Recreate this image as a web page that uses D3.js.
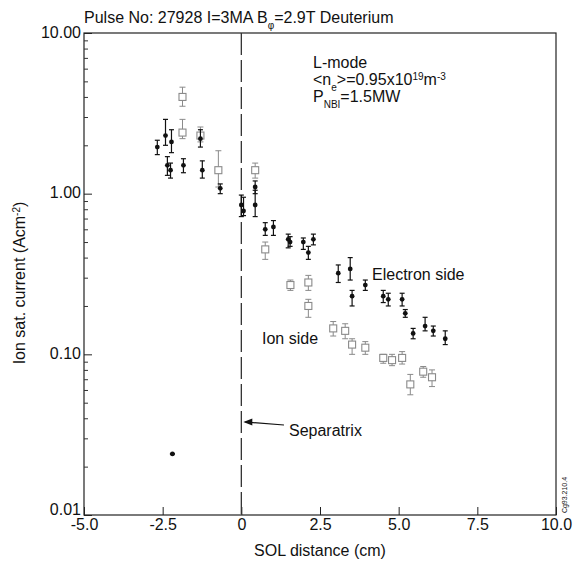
<!DOCTYPE html>
<html>
<head>
<meta charset="utf-8">
<script src="https://cdn.jsdelivr.net/npm/d3@7"></script>
<style>
body { margin: 0; background: #fff; }
text { font-family: "Liberation Sans", Arial, sans-serif; fill: #111; }
</style>
</head>
<body>
<script>
//Chart data

const xTicks = [-5, -2.5, 0, 2.5, 5, 7.5, 10];
const xTickLabels = ["-5.0", "-2.5", "0", "2.5", "5.0", "7.5", "10.0"];
const yTicks = [10, 1, 0.1, 0.01];
const yTickLabels = ["10.00", "1.00", "0.10", "0.01"];

// electron side (filled points with error bars)
const electronX  = [-2.67, -2.41, -2.35, -2.22, -2.25, -1.84, -1.30, -1.24, -0.67, 0.00, 0.07, 0.44, 0.44, 0.76, 1.02, 1.49, 1.55, 1.97, 2.13, 2.29, 3.08, 3.46, 3.52, 3.94, 4.51, 4.67, 5.11, 5.21, 5.46, 5.84, 6.10, 6.48, -2.19];
const electronY  = [1.95, 2.3, 1.5, 2.1, 1.4, 1.5, 2.2, 1.4, 1.08, 0.85, 0.78, 0.85, 1.1, 0.6, 0.62, 0.52, 0.5, 0.5, 0.43, 0.52, 0.32, 0.34, 0.23, 0.27, 0.23, 0.22, 0.22, 0.18, 0.135, 0.15, 0.14, 0.125, 0.024];
const electronLo = [1.75, 2.0, 1.3, 1.8, 1.25, 1.35, 1.95, 1.25, 1.0, 0.72, 0.73, 0.72, 1.0, 0.55, 0.55, 0.46, 0.47, 0.45, 0.39, 0.48, 0.28, 0.29, 0.2, 0.25, 0.21, 0.2, 0.2, 0.17, 0.125, 0.14, 0.13, 0.115, 0.024];
const electronHi = [2.15, 2.9, 1.7, 2.5, 1.55, 1.65, 2.5, 1.6, 1.15, 0.98, 0.95, 1.05, 1.2, 0.66, 0.68, 0.56, 0.54, 0.53, 0.47, 0.56, 0.36, 0.40, 0.25, 0.29, 0.25, 0.24, 0.24, 0.19, 0.145, 0.17, 0.15, 0.14, 0.024];

// ion side (open squares with error bars)
const ionX  = [-1.87, -1.87, -1.30, -0.73, 0.44, 0.76, 1.56, 2.13, 2.13, 2.92, 3.30, 3.52, 3.94, 4.51, 4.79, 5.11, 5.37, 5.78, 6.06];
const ionY  = [4.0, 2.4, 2.3, 1.4, 1.4, 0.45, 0.27, 0.28, 0.2, 0.145, 0.14, 0.115, 0.11, 0.095, 0.092, 0.095, 0.065, 0.078, 0.072];
const ionLo = [3.5, 2.2, 2.1, 1.1, 1.25, 0.39, 0.25, 0.25, 0.17, 0.13, 0.125, 0.10, 0.10, 0.088, 0.085, 0.087, 0.056, 0.072, 0.063];
const ionHi = [4.6, 2.9, 2.6, 1.85, 1.55, 0.5, 0.29, 0.31, 0.22, 0.16, 0.155, 0.125, 0.12, 0.10, 0.10, 0.104, 0.075, 0.084, 0.08];

//Setting up the svg

var width = 576, height = 566;
var margin = { left: 84, right: 20, top: 33, bottom: 51 };

var svg = d3.select("body").append("svg")
    .attr("width", width)
    .attr("height", height);

var x = d3.scaleLinear().domain([-5, 10]).range([margin.left, width - margin.right]);
var y = d3.scaleLog().domain([0.01, 10]).range([height - margin.bottom, margin.top]);

// frame
svg.append("rect")
    .attr("x", x(-5)).attr("y", y(10))
    .attr("width", x(10) - x(-5)).attr("height", y(0.01) - y(10))
    .attr("fill", "none").attr("stroke", "#222").attr("stroke-width", 1.2);

// x axis, ticks pointing in
var xAxis = d3.axisBottom(x)
    .tickValues(xTicks)
    .tickSizeInner(-8).tickSizeOuter(0).tickPadding(4)
    .tickFormat((d, i) => xTickLabels[i]);

svg.append("g")
    .attr("transform", "translate(0," + y(0.01) + ")")
    .call(xAxis)
    .call(g => g.select(".domain").remove())
    .call(g => g.selectAll("text").style("font-size", "16px").attr("fill", "#111"))
    .call(g => g.selectAll("line").attr("stroke", "#222"));

// y axis, major and minor ticks pointing in
var minor = [];
[0.01, 0.1, 1].forEach(function (d) {
    for (let k = 2; k < 10; k++) minor.push(d * k);
});

svg.append("g")
    .attr("transform", "translate(" + x(-5) + ",0)")
    .call(d3.axisLeft(y).tickValues(minor).tickSizeInner(-4).tickSizeOuter(0).tickFormat(""))
    .call(g => g.select(".domain").remove())
    .call(g => g.selectAll("line").attr("stroke", "#333"));

svg.append("g")
    .attr("transform", "translate(" + x(-5) + ",0)")
    .call(d3.axisLeft(y).tickValues(yTicks).tickSizeInner(-8).tickSizeOuter(0).tickPadding(3)
        .tickFormat((d, i) => yTickLabels[i]))
    .call(g => g.select(".domain").remove())
    .call(g => g.selectAll("text").style("font-size", "16px").attr("fill", "#111")
        .attr("dy", d => d == 0.01 ? "-0.05em" : "0.25em"))
    .call(g => g.selectAll("line").attr("stroke", "#222"));

// separatrix line
svg.append("line")
    .attr("x1", x(0)).attr("x2", x(0))
    .attr("y1", y(10)).attr("y2", y(0.01))
    .attr("stroke", "#333").attr("stroke-width", 1.3)
    .attr("stroke-dasharray", "22,5");

//Drawing the points

var ion = ionX.map((d, i) => ({ x: d, y: ionY[i], lo: ionLo[i], hi: ionHi[i] }));
var electron = electronX.map((d, i) => ({ x: d, y: electronY[i], lo: electronLo[i], hi: electronHi[i] }));

var ionG = svg.append("g").attr("stroke", "#8a8a8a").attr("fill", "none");
ionG.selectAll("line.bar").data(ion).enter().append("line")
    .attr("x1", d => x(d.x)).attr("x2", d => x(d.x))
    .attr("y1", d => y(d.lo)).attr("y2", d => y(d.hi))
    .attr("stroke-width", 1);
ionG.selectAll("line.cap").data(ion.flatMap(d => [[d.x, d.lo], [d.x, d.hi]])).enter().append("line")
    .attr("x1", d => x(d[0]) - 3).attr("x2", d => x(d[0]) + 3)
    .attr("y1", d => y(d[1])).attr("y2", d => y(d[1]));
ionG.selectAll("rect").data(ion).enter().append("rect")
    .attr("x", d => x(d.x) - 3.5).attr("y", d => y(d.y) - 3.5)
    .attr("width", 7).attr("height", 7)
    .attr("fill", "#fff").attr("stroke-width", 1.1);

var elG = svg.append("g").attr("stroke", "#111");
elG.selectAll("line.bar").data(electron).enter().append("line")
    .attr("x1", d => x(d.x)).attr("x2", d => x(d.x))
    .attr("y1", d => y(d.lo)).attr("y2", d => y(d.hi))
    .attr("stroke-width", 1.2);
elG.selectAll("line.cap").data(electron.flatMap(d => [[d.x, d.lo], [d.x, d.hi]])).enter().append("line")
    .attr("x1", d => x(d[0]) - 2.5).attr("x2", d => x(d[0]) + 2.5)
    .attr("y1", d => y(d[1])).attr("y2", d => y(d[1]))
    .attr("stroke-width", 1.2);
elG.selectAll("circle").data(electron).enter().append("circle")
    .attr("cx", d => x(d.x)).attr("cy", d => y(d.y))
    .attr("r", 2.4).attr("fill", "#111").attr("stroke", "none");

//Texts

var title = svg.append("text").attr("x", 84).attr("y", 23).style("font-size", "16px");
title.append("tspan").text("Pulse No: 27928 I=3MA B");
title.append("tspan").attr("baseline-shift", "sub").style("font-size", "10px").text("φ");
title.append("tspan").text("=2.9T Deuterium");

var info = svg.append("g").style("font-size", "16px");
info.append("text").attr("x", 313).attr("y", 68).text("L-mode");
var ne = info.append("text").attr("x", 313).attr("y", 85);
ne.append("tspan").text("<n");
ne.append("tspan").attr("baseline-shift", "sub").style("font-size", "10px").text("e");
ne.append("tspan").text(">=0.95x10");
ne.append("tspan").attr("baseline-shift", "super").style("font-size", "10px").text("19");
ne.append("tspan").text("m");
ne.append("tspan").attr("baseline-shift", "super").style("font-size", "10px").text("-3");
var pn = info.append("text").attr("x", 313).attr("y", 102);
pn.append("tspan").text("P");
pn.append("tspan").attr("baseline-shift", "sub").style("font-size", "10px").text("NBI");
pn.append("tspan").text("=1.5MW");

svg.append("text").attr("x", 372).attr("y", 280).style("font-size", "16px").text("Electron side");
svg.append("text").attr("x", 262).attr("y", 344).style("font-size", "16px").text("Ion side");
svg.append("text").attr("x", 289).attr("y", 436).style("font-size", "16px").text("Separatrix");

// arrow to separatrix
svg.append("line")
    .attr("x1", 284).attr("y1", 425).attr("x2", x(0) + 4).attr("y2", 422)
    .attr("stroke", "#111").attr("stroke-width", 1.2);
svg.append("path")
    .attr("d", "M" + (x(0) + 2) + ",422 l9,-3.5 l0,7 z")
    .attr("fill", "#111");

var ylab = svg.append("text")
    .attr("transform", "translate(25,283) rotate(-90)")
    .attr("text-anchor", "middle")
    .style("font-size", "16px");
ylab.append("tspan").text("Ion sat. current (Acm");
ylab.append("tspan").attr("baseline-shift", "super").style("font-size", "10px").text("-2");
ylab.append("tspan").text(")");

svg.append("text")
    .attr("x", (x(-5) + x(10)) / 2).attr("y", 556)
    .attr("text-anchor", "middle")
    .style("font-size", "16px")
    .text("SOL distance (cm)");

svg.append("text")
    .attr("transform", "translate(567,495) rotate(-90)")
    .attr("text-anchor", "middle")
    .style("font-size", "7px").attr("fill", "#666")
    .text("Cg93.210.4");
</script>
</body>
</html>
